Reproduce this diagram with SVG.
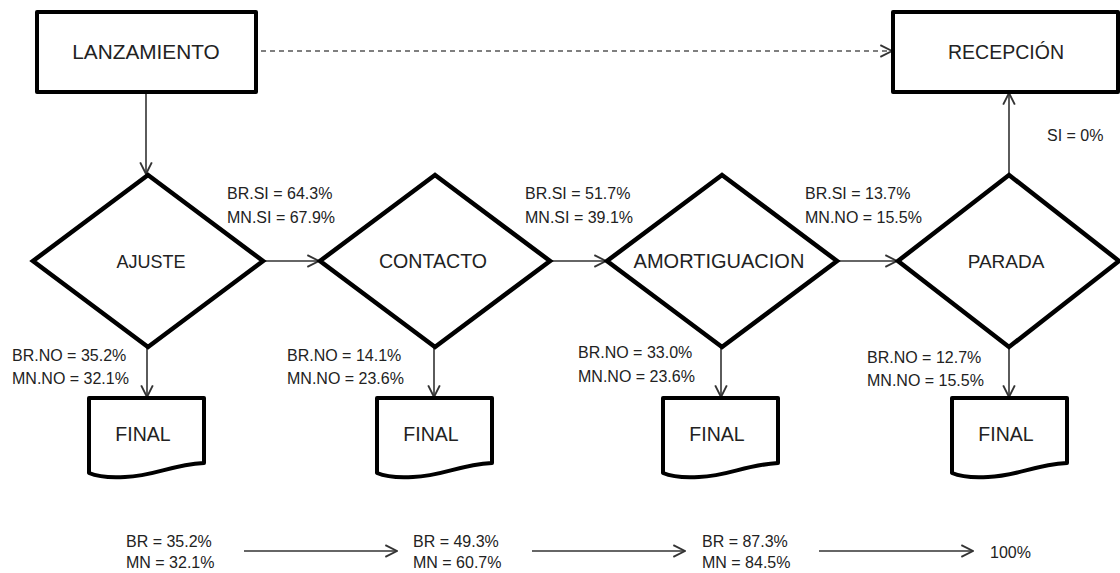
<svg xmlns="http://www.w3.org/2000/svg" width="1120" height="573" viewBox="0 0 1120 573">
<style>
.box{fill:#fff;stroke:#000;stroke-width:4;stroke-linejoin:round}
.dia{fill:#fff;stroke:#000;stroke-width:4.5;stroke-linejoin:miter}
.lbl{font-family:"Liberation Sans",Arial,sans-serif;font-size:20px;fill:#222;text-anchor:middle}
.sm{font-family:"Liberation Sans",Arial,sans-serif;font-size:16px;fill:#222}
.con{stroke:#333;stroke-width:1.6;fill:none}
.dash{stroke:#555;stroke-width:1.6;fill:none;stroke-dasharray:5 4}
</style>
<defs>
<marker id="arr" markerUnits="userSpaceOnUse" markerWidth="14" markerHeight="14" viewBox="0 0 12 12" refX="11" refY="6" orient="auto">
<path d="M1,1 L11,6 L1,11" fill="none" stroke="#333" stroke-width="1.6"/>
</marker>
</defs>
<g id="connectors">
<line class="dash" x1="252" y1="51" x2="892" y2="51" marker-end="url(#arr)"/>
<line class="con" x1="146" y1="92" x2="146" y2="174" marker-end="url(#arr)"/>
<line class="con" x1="263" y1="261" x2="319" y2="261" marker-end="url(#arr)"/>
<line class="con" x1="550" y1="261" x2="606" y2="261" marker-end="url(#arr)"/>
<line class="con" x1="837" y1="261" x2="897" y2="261" marker-end="url(#arr)"/>
<line class="con" x1="1009" y1="175" x2="1009" y2="93" marker-end="url(#arr)"/>
<line class="con" x1="147" y1="347" x2="147" y2="397" marker-end="url(#arr)"/>
<line class="con" x1="434" y1="347" x2="434" y2="397" marker-end="url(#arr)"/>
<line class="con" x1="721" y1="347" x2="721" y2="397" marker-end="url(#arr)"/>
<line class="con" x1="1009" y1="347" x2="1009" y2="397" marker-end="url(#arr)"/>
<line class="con" x1="244" y1="551" x2="397" y2="551" marker-end="url(#arr)"/>
<line class="con" x1="532" y1="551" x2="685" y2="551" marker-end="url(#arr)"/>
<line class="con" x1="819" y1="551" x2="973" y2="551" marker-end="url(#arr)"/>
</g>
<g id="lanzamiento">
<rect class="box" x="37" y="12" width="219" height="80"/>
<text class="lbl" x="146" y="59" style="font-size:20.8px">LANZAMIENTO</text>
</g>
<g id="recepcion">
<rect class="box" x="893" y="12" width="225" height="80"/>
<text class="lbl" x="1006" y="59" style="font-size:19.5px">RECEPCIÓN</text>
</g>
<g id="ajuste">
<polygon class="dia" points="148,175 263,261 148,347 33,261"/>
<text class="lbl" x="151" y="268" style="font-size:18px">AJUSTE</text>
</g>
<g id="contacto">
<polygon class="dia" points="435,175 550,261 435,347 320,261"/>
<text class="lbl" x="433" y="268" style="font-size:19.6px">CONTACTO</text>
</g>
<g id="amortiguacion">
<polygon class="dia" points="722,175 837,261 722,347 607,261"/>
<text class="lbl" x="719" y="268">AMORTIGUACION</text>
</g>
<g id="parada">
<polygon class="dia" points="1009,175 1119,261 1009,347 898,261"/>
<text class="lbl" x="1006" y="268" style="font-size:19px">PARADA</text>
</g>
<g id="final1">
<path class="box" d="M89,398 H204 V463 C170,465 155,476 125,477 C108,478 96,476 89,473 Z"/>
<text class="lbl" x="143" y="441" style="font-size:19.5px">FINAL</text>
</g>
<g id="final2">
<path class="box" d="M377,398 H492 V463 C458,465 443,476 413,477 C396,478 384,476 377,473 Z"/>
<text class="lbl" x="431" y="441" style="font-size:19.5px">FINAL</text>
</g>
<g id="final3">
<path class="box" d="M663,398 H778 V463 C744,465 729,476 699,477 C682,478 670,476 663,473 Z"/>
<text class="lbl" x="717" y="441" style="font-size:19.5px">FINAL</text>
</g>
<g id="final4">
<path class="box" d="M952,398 H1067 V463 C1033,465 1018,476 988,477 C971,478 959,476 952,473 Z"/>
<text class="lbl" x="1006" y="441" style="font-size:19.5px">FINAL</text>
</g>
<g id="labels">
<text class="sm" x="227" y="199">BR.SI = 64.3%</text>
<text class="sm" x="227" y="223">MN.SI = 67.9%</text>
<text class="sm" x="525" y="199">BR.SI = 51.7%</text>
<text class="sm" x="525" y="223">MN.SI = 39.1%</text>
<text class="sm" x="805" y="199">BR.SI = 13.7%</text>
<text class="sm" x="805" y="223">MN.NO = 15.5%</text>
<text class="sm" x="1047" y="141">SI = 0%</text>
<text class="sm" x="12" y="361">BR.NO = 35.2%</text>
<text class="sm" x="12" y="384">MN.NO = 32.1%</text>
<text class="sm" x="287" y="361">BR.NO = 14.1%</text>
<text class="sm" x="287" y="384">MN.NO = 23.6%</text>
<text class="sm" x="578" y="358">BR.NO = 33.0%</text>
<text class="sm" x="578" y="382">MN.NO = 23.6%</text>
<text class="sm" x="867" y="363">BR.NO = 12.7%</text>
<text class="sm" x="867" y="386">MN.NO = 15.5%</text>
<text class="sm" x="126" y="547">BR = 35.2%</text>
<text class="sm" x="126" y="568">MN = 32.1%</text>
<text class="sm" x="413" y="547">BR = 49.3%</text>
<text class="sm" x="413" y="568">MN = 60.7%</text>
<text class="sm" x="702" y="547">BR = 87.3%</text>
<text class="sm" x="702" y="568">MN = 84.5%</text>
<text class="sm" x="990" y="558">100%</text>
</g>
</svg>
